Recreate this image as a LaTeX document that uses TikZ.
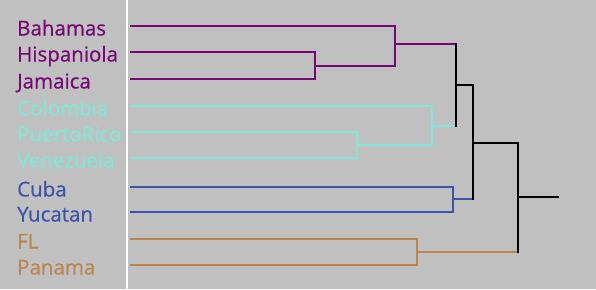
\documentclass[tikz,border=0pt]{standalone}
\usepackage{fontspec}
\setmainfont[FakeBold=0.5]{Open Sans}
\definecolor{bg}{HTML}{C0C0C0}
\definecolor{cpur}{HTML}{750875}
\definecolor{ctur}{HTML}{80E6D8}
\definecolor{cblu}{HTML}{3A54A8}
\definecolor{cora}{HTML}{BA8650}
\begin{document}
\begin{tikzpicture}[x=1pt,y=-1pt,
  lbl/.style={anchor=base west, inner sep=0pt, font=\fontsize{20.5}{22}\selectfont},
  br/.style={line width=2pt, line join=miter, line cap=rect},
  pur/.style={br, draw=cpur},
  tur/.style={br, draw=ctur},
  blu/.style={br, draw=cblu},
  ora/.style={br, draw=cora},
  blk/.style={br, draw=black}]
\useasboundingbox[fill=bg] (0,0) rectangle (596,289);
\draw[white, line width=2pt] (127,0) -- (127,289);

% labels
\node[lbl, text=cpur] (t1) at (17,35.5) {Bahamas};
\node[lbl, text=cpur] (t2) at (17,61.5) {Hispaniola};
\node[lbl, text=cpur] (t3) at (17,88.5) {Jamaica};
\node[lbl, text=ctur] (t4) at (17,115.5) {Colombia};
\node[lbl, text=ctur] (t5) at (17,141.5) {PuertoRico};
\node[lbl, text=ctur] (t6) at (17,167.5) {Venezuela};
\node[lbl, text=cblu] (t7) at (17,196.5) {Cuba};
\node[lbl, text=cblu] (t8) at (17,221.5) {Yucatan};
\node[lbl, text=cora] (t9) at (17,248.5) {FL};
\node[lbl, text=cora] (t10) at (17,274.5) {Panama};

% leaf line starts
\coordinate (l1) at (131,26);
\coordinate (l2) at (131,52);
\coordinate (l3) at (131,79);
\coordinate (l4) at (131,106);
\coordinate (l5) at (131,132);
\coordinate (l6) at (131,158);
\coordinate (l7) at (131,187);
\coordinate (l8) at (131,212);
\coordinate (l9) at (131,239);
\coordinate (l10) at (131,265);

% junctions
\coordinate (jHJ) at (315,65.5);
\coordinate (jBHJ) at (395,44);
\coordinate (jPV) at (357,145);
\coordinate (jCPV) at (432,126);
\coordinate (jPT) at (456,85);
\coordinate (jCY) at (453,199);
\coordinate (jPTCY) at (473,143);
\coordinate (jFP) at (417,252);
\coordinate (jRoot) at (518,197);
\coordinate (rootEnd) at (558,197);

% purple cluster
\draw[pur] (l2) -| (jHJ) |- (l3);
\draw[pur] (l1) -| (jBHJ) |- (jHJ);
\draw[pur] (jBHJ) -- (jBHJ -| jPT);
% turquoise cluster
\draw[tur] (l5) -| (jPV) |- (l6);
\draw[tur] (l4) -| (jCPV) |- (jPV);
\draw[tur] (jCPV) -- (jCPV -| jPT);
% blue cluster
\draw[blu] (l7) -| (jCY) |- (l8);
\draw[blu] (jCY) -- (jCY -| jPTCY);
% orange cluster
\draw[ora] (l9) -| (jFP) |- (l10);
\draw[ora] (jFP) -- (jFP -| jRoot);
% black upper joins
\draw[blk] (jBHJ -| jPT) -- (jCPV -| jPT);
\draw[blk] (jPT) -- (jPT -| jPTCY);
\draw[blk] (jPT -| jPTCY) -- (jCY -| jPTCY);
\draw[blk] (jPTCY) -- (jPTCY -| jRoot);
\draw[blk] (jPTCY -| jRoot) -- (jFP -| jRoot);
\draw[blk] (jRoot) -- (rootEnd);
\end{tikzpicture}
\end{document}
